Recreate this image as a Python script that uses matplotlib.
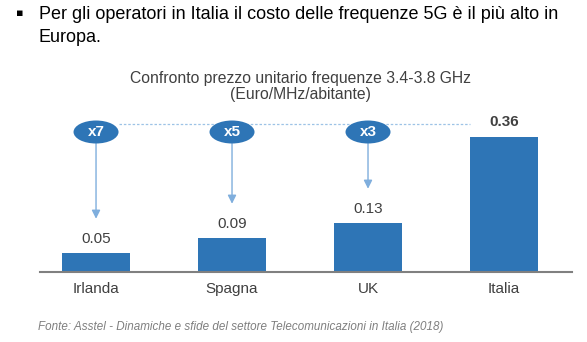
import matplotlib
matplotlib.use("Agg")
import matplotlib.pyplot as plt
from matplotlib.patches import Ellipse

categories = ["Irlanda", "Spagna", "UK", "Italia"]
values = [0.05, 0.09, 0.13, 0.36]
multipliers = ["x7", "x5", "x3"]
value_labels = ["0.05", "0.09", "0.13", "0.36"]

plt.rcParams['font.family'] = ['Liberation Sans', 'DejaVu Sans']

W, H = 587, 342
fig = plt.figure(figsize=(W / 100, H / 100), dpi=100)
fig.patch.set_facecolor("white")
renderer = fig.canvas.get_renderer()


def fit(t, target_px):
    w = t.get_window_extent(renderer=renderer).width
    t.set_fontsize(t.get_fontsize() * target_px / w)


px_per_unit = 375.0
base_px = 272
top_px = 100
ax = fig.add_axes([40 / W, (H - base_px) / H, (572 - 40) / W, (base_px - top_px) / H])
ax.set_xlim(-0.412, 3.5)
ax.set_ylim(0, (base_px - top_px) / px_per_unit)

blue = "#2E75B6"
light = "#7FAEDD"
x = list(range(len(categories)))
ax.bar(x, values, width=0.5, color=blue, zorder=2)

for s in ["top", "right", "left"]:
    ax.spines[s].set_visible(False)
ax.spines["bottom"].set_color("#808080")
ax.spines["bottom"].set_linewidth(1.5)
ax.set_yticks([])
ax.set_xticks(x)
ax.set_xticklabels(categories, fontsize=11, color="#404040")
ax.tick_params(axis="x", length=0, pad=7)

for i, (v, lab) in enumerate(zip(values, value_labels)):
    bold = (i == len(values) - 1)
    ax.annotate(lab, (i, v), xytext=(0, 10.5), textcoords="offset points",
                ha="center", va="center", fontsize=11, color="#404040",
                fontweight="bold" if bold else "normal")

# dashed reference line
ell_y = (base_px - 132) / px_per_unit
ell_w = 45 / 136.0
ell_h = 23 / px_per_unit
dash_y = (base_px - 124) / px_per_unit
ax.plot([0 + ell_w / 2, 3 - 0.25], [dash_y, dash_y], ls=(0, (2, 1.5)),
        color="#9DC3E6", lw=0.9, zorder=1, clip_on=False)

for i, m in enumerate(multipliers):
    e = Ellipse((i, ell_y), ell_w, ell_h, facecolor=blue, edgecolor="none",
                zorder=4, clip_on=False)
    ax.add_patch(e)
    ax.text(i, ell_y, m, ha="center", va="center", color="white",
            fontsize=11, fontweight="bold", zorder=5)
    tip = values[i] + 0.092
    ax.annotate("", xy=(i, tip), xytext=(i, ell_y - ell_h / 2),
                arrowprops=dict(arrowstyle="-|>,head_length=0.5,head_width=0.25",
                                color=light, lw=1.0, shrinkA=0, shrinkB=0),
                zorder=3)

t1 = fig.text(300 / W, 1 - 78 / H, "Confronto prezzo unitario frequenze 3.4-3.8 GHz",
              ha="center", va="center", fontsize=11, color="#404040")
fit(t1, 339)
t2 = fig.text(300 / W, 1 - 94 / H, "(Euro/MHz/abitante)",
              ha="center", va="center", fontsize=t1.get_fontsize(), color="#404040")

fig.text(20 / W, 1 - 13.5 / H, "\u25aa", ha="center", va="center", fontsize=8,
         color="black", family=["DejaVu Sans"])
h1 = fig.text(39 / W, 1 - 19 / H,
              "Per gli operatori in Italia il costo delle frequenze 5G è il più alto in",
              ha="left", va="baseline", fontsize=13.5, color="black")
fit(h1, 517)
fig.text(39 / W, 1 - 42 / H, "Europa.", ha="left", va="baseline",
         fontsize=h1.get_fontsize(), color="black")

f1 = fig.text(38 / W, 1 - 327 / H,
              "Fonte: Asstel - Dinamiche e sfide del settore Telecomunicazioni in Italia (2018)",
              ha="left", va="center", fontsize=8.5, style="italic", color="#7F7F7F")
fit(f1, 399)

fig.savefig("out.png", dpi=100, facecolor="white")
